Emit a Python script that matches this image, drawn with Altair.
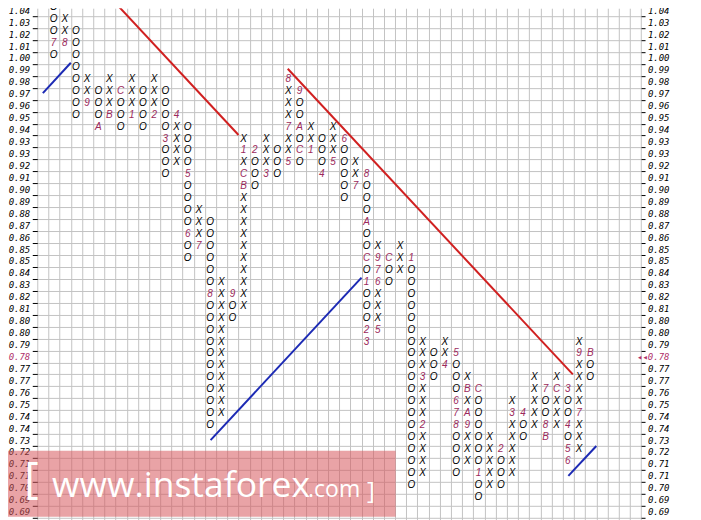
import json
import altair as alt
import pandas as pd

# ---------------- data ----------------
ROW_LABELS = ["1.04", "1.03", "1.02", "1.01", "1.00", "0.99", "0.98", "0.97", "0.96", "0.95",
              "0.94", "0.93", "0.93", "0.92", "0.91", "0.90", "0.89", "0.88", "0.87", "0.86",
              "0.85", "0.85", "0.84", "0.83", "0.82", "0.81", "0.80", "0.80", "0.79", "0.78",
              "0.77", "0.77", "0.76", "0.75", "0.74", "0.74", "0.73", "0.72", "0.71", "0.71",
              "0.70", "0.69", "0.69"]
HIGHLIGHT_ROW = 29          # current price row (0.78)

# point & figure columns 1..49 (row index 0 = 1.04 at top)
COL_KIND = list("OXOXOXOXOXOXOXOXOXOXOXOXOXOXOXOXOXOXOXOXOXOXOXOXO")
COL_TOP = [0, 1, 2, 6, 7, 6, 7, 6, 7, 6, 7, 9, 10, 17, 18, 23, 24, 11, 12, 11,
           12, 6, 7, 10, 11, 10, 11, 13, 14, 20, 21, 20, 21, 28, 29, 28, 29, 31, 32, 36,
           37, 33, 34, 31, 32, 31, 32, 28, 29]
COL_BOTTOM = [4, 3, 9, 8, 10, 9, 10, 9, 10, 9, 14, 13, 21, 20, 35, 34, 26, 25, 15, 14,
              14, 13, 13, 12, 14, 13, 16, 15, 28, 27, 23, 22, 40, 39, 31, 30, 39, 38, 41, 40,
              40, 39, 36, 35, 36, 35, 38, 37, 31]

# month markers (column, row, text)
MARK_COL = [1, 2, 4, 5, 6, 7, 8, 10, 11, 12, 13, 13, 14, 15, 17, 18, 18, 18, 19, 20,
            22, 22, 22, 23, 23, 23, 24, 25, 26, 27, 28, 29, 29, 29, 29, 29, 29, 30, 30, 30,
            30, 31, 33, 34, 34, 36, 37, 37, 37, 37, 38, 38, 38, 39, 39, 41, 42, 43, 45, 45,
            45, 46, 47, 47, 47, 47, 48, 48, 49]
MARK_ROW = [3, 3, 8, 10, 9, 7, 9, 9, 11, 9, 14, 19, 20, 24, 24, 15, 14, 12, 12, 14,
            6, 10, 13, 7, 10, 12, 12, 14, 13, 11, 15, 14, 18, 21, 23, 27, 28, 27, 23, 22,
            21, 21, 21, 35, 31, 30, 29, 33, 34, 35, 35, 34, 32, 32, 39, 37, 34, 34, 32, 35,
            36, 32, 32, 35, 37, 38, 34, 29, 29]
MARK_TEXT = ["7", "8", "9", "A", "B", "C", "1", "2", "3", "4", "5", "6", "7", "8", "9", "B", "C", "1", "2", "3",
             "8", "7", "5", "9", "A", "C", "1", "4", "5", "6", "7", "8", "A", "C", "1", "2", "3", "5", "6", "7",
             "9", "C", "1", "2", "3", "4", "5", "6", "7", "8", "9", "A", "B", "C", "1", "2", "3", "4", "7", "8",
             "B", "C", "3", "4", "5", "6", "7", "9", "B"]

# trend lines (column, row) end points
TREND_ID = ["res1", "res1", "res2", "res2", "sup1", "sup1", "sup2", "sup2", "sup3", "sup3"]
TREND_KIND = ["resistance"] * 4 + ["support"] * 6
TREND_COL = [6.1, 17.5, 21.9, 47.4, 0.0, 2.5, 15.0, 28.5, 47.0, 49.5]
TREND_ROW = [-1.0, 10.45, 4.9, 30.5, 6.95, 4.4, 36.0, 22.4, 39.0, 36.5]

WATERMARK_MAIN = "www.instaforex"
WATERMARK_TLD = ".com"

# ---------------- geometry / style ----------------
ROW_PX = 11.95
COL_PX = 11.19
N_COLS = 54
PLOT_W = N_COLS * COL_PX
PLOT_H = 512
Y_TOP = -2.0 / ROW_PX
Y_BOTTOM = Y_TOP + PLOT_H / ROW_PX
GRID = "#c3c3c3"
MONTH_COLOR = "#9c2a5c"
RED = "#d02020"
BLUE = "#1c2ab4"

marks = {(c, r): t for c, r, t in zip(MARK_COL, MARK_ROW, MARK_TEXT)}
records = []
for i, kind in enumerate(COL_KIND):
    c = i + 1
    for r in range(COL_TOP[i], COL_BOTTOM[i] + 1):
        if (c, r) in marks:
            records.append({"col": c, "row": r, "glyph": marks[(c, r)], "type": "month"})
        else:
            records.append({"col": c, "row": r, "glyph": kind, "type": "box"})
sym_df = pd.DataFrame(records)

trend_df = pd.DataFrame({"id": TREND_ID, "kind": TREND_KIND, "col": TREND_COL, "row": TREND_ROW})

x_scale = alt.Scale(domain=[-0.5, N_COLS - 0.5], nice=False, zero=False)
y_scale = alt.Scale(domain=[Y_TOP, Y_BOTTOM], reverse=True, nice=False, zero=False)
x_bounds = [i - 0.5 for i in range(N_COLS + 1)]
y_bounds = [k + 0.5 for k in range(len(ROW_LABELS))]

right_labels = [("\u25c2\u25c2" + l if i == HIGHLIGHT_ROW else l) for i, l in enumerate(ROW_LABELS)]
left_expr = json.dumps(ROW_LABELS, ensure_ascii=False) + "[round(datum.value - 0.5)]"
right_expr = json.dumps(right_labels, ensure_ascii=False) + "[round(datum.value - 0.5)]"
label_color = {"condition": {"test": f"round(datum.value - 0.5) == {HIGHLIGHT_ROW}",
                             "value": "#b0306a"}, "value": "black"}

x_axis = alt.Axis(values=x_bounds, grid=True, gridColor=GRID, gridWidth=1, labels=False,
                  ticks=False, domain=False, title=None)

common_label = dict(labelFont="DejaVu Sans Mono", labelFontStyle="italic", labelFontSize=9,
                    labelColor=label_color, labelOffset=-ROW_PX / 2, labelOverlap=False,
                    domain=False, tickColor="black", title=None, values=y_bounds)

left_axis = alt.Axis(orient="left", grid=True, gridColor=GRID, gridWidth=1, tickSize=5,
                     labelPadding=2.5, labelExpr=left_expr, **common_label)
right_axis = alt.Axis(orient="right", grid=False, tickSize=4, labelPadding=24, labelAlign="right",
                      labelExpr=right_expr, **common_label)

symbols = alt.Chart(sym_df).mark_text(
    font="Liberation Sans", fontStyle="italic", fontSize=10, baseline="alphabetic",
    align="center", dx=-0.5, dy=0
).encode(
    x=alt.X("col:Q", scale=x_scale, axis=x_axis),
    y=alt.Y("row:Q", scale=y_scale, axis=left_axis),
    text="glyph:N",
    color=alt.Color("type:N", scale=alt.Scale(domain=["box", "month"], range=["black", MONTH_COLOR]),
                    legend=None),
)

lines = alt.Chart(trend_df).mark_line(strokeWidth=2, clip=True).encode(
    x=alt.X("col:Q", scale=x_scale, axis=x_axis),
    y=alt.Y("row:Q", scale=y_scale, axis=right_axis),
    detail="id:N",
    color=alt.Color("kind:N", scale=alt.Scale(domain=["resistance", "support"], range=[RED, BLUE]),
                    legend=None),
)

one = pd.DataFrame({"k": [0]})
wm_rect = alt.Chart(one).mark_rect(color="#d7585d", opacity=0.55).encode(
    x=alt.value(-29.3), x2=alt.value(358.7), y=alt.value(443), y2=alt.value(509)
)
wm_open = alt.Chart(one).mark_text(text="[", font="Open Sans", fontSize=44, color="white",
                                   align="left", baseline="alphabetic").encode(
    x=alt.value(-13), y=alt.value(485))
wm_main = alt.Chart(one).mark_text(text=WATERMARK_MAIN, font="Open Sans", fontSize=35.5, color="white",
                                   align="left", baseline="alphabetic").encode(
    x=alt.value(14.7), y=alt.value(489))
wm_tld = alt.Chart(one).mark_text(text=WATERMARK_TLD, font="Open Sans", fontSize=23, color="white",
                                  align="left", baseline="alphabetic").encode(
    x=alt.value(271), y=alt.value(489))
wm_close = alt.Chart(one).mark_text(text="]", font="Open Sans", fontSize=24, color="white",
                                    align="left", baseline="alphabetic").encode(
    x=alt.value(330), y=alt.value(491))

chart = alt.layer(symbols, lines, wm_rect, wm_open, wm_main, wm_tld, wm_close).resolve_axis(
    y="independent"
).resolve_scale(
    color="independent"
).properties(
    width=PLOT_W, height=PLOT_H, autosize="none",
    padding={"left": 29.3, "top": 0, "right": 52, "bottom": 0},
    background="white",
).configure_view(strokeWidth=0)

chart.save("out.html", embed_options={"renderer": "svg", "actions": False})
